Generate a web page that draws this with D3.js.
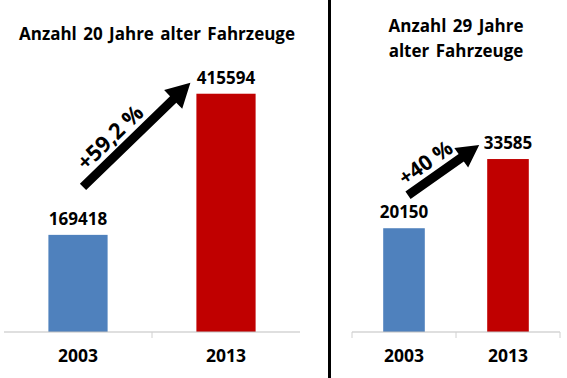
<!DOCTYPE html>
<html>
<head>
<meta charset="utf-8">
<script src="https://cdn.jsdelivr.net/npm/d3@7"></script>
<style>
  body { margin: 0; background: #fff; }
  text { font-family: "Open Sans", "Liberation Sans", sans-serif; font-weight: bold; fill: #000; }
</style>
</head>
<body>
<div id="chart"></div>
<script>
// Data
const years = ['2003', '2013'];
const counts20 = [169418, 415594];
const counts29 = [20150, 33585];
const growth20 = '+59,2 %';
const growth29 = '+40 %';
const barColors = ['#4f81bd', '#c00000'];

const W = 567, H = 378;
const svg = d3.select('#chart').append('svg')
    .attr('width', W)
    .attr('height', H);

// Draw one panel (bars, labels, axis, arrow)
const panel = (opts) => {
    const g = svg.append('g');
    const x = d3.scaleBand().domain(years).range(opts.xRange);
    const y = d3.scaleLinear().domain([0, opts.yMax]).range([332, opts.yTop]);
    const bw = x.bandwidth() * 0.4;
    const cx = d => x(d) + x.bandwidth() / 2;

    // Title
    opts.title.forEach((t, i) => {
        g.append('text')
            .attr('x', opts.titleX)
            .attr('y', opts.titleY + i * 25)
            .attr('text-anchor', 'middle')
            .style('font-size', '17px')
            .style('word-spacing', '2px')
            .text(t);
    });

    // Bars
    g.selectAll('rect')
        .data(opts.values)
        .enter().append('rect')
        .attr('x', (d, i) => cx(years[i]) - bw / 2)
        .attr('y', d => y(d))
        .attr('width', bw)
        .attr('height', d => y(0) - y(d))
        .attr('fill', (d, i) => barColors[i]);

    // Value labels
    g.selectAll('.val')
        .data(opts.values)
        .enter().append('text')
        .attr('class', 'val')
        .attr('x', (d, i) => cx(years[i]))
        .attr('y', d => y(d) - 10)
        .attr('text-anchor', 'middle')
        .style('font-size', '17px')
        .text(d => d);

    // Axis line + ticks
    g.append('line')
        .attr('x1', opts.xRange[0]).attr('x2', opts.xRange[1])
        .attr('y1', y(0)).attr('y2', y(0))
        .attr('stroke', '#bfbfbf').attr('stroke-width', 1.2);
    const tickXs = opts.endTicks
        ? [opts.xRange[0], x(years[1]), opts.xRange[1]]
        : [x(years[1])];
    g.selectAll('.tick')
        .data(tickXs)
        .enter().append('line')
        .attr('x1', d => d).attr('x2', d => d)
        .attr('y1', y(0)).attr('y2', y(0) + 6)
        .attr('stroke', '#d0d0d0').attr('stroke-width', 1);

    // Category labels
    g.selectAll('.cat')
        .data(years)
        .enter().append('text')
        .attr('class', 'cat')
        .attr('x', d => cx(d))
        .attr('y', y(0) + 30)
        .attr('text-anchor', 'middle')
        .style('font-size', '17.5px')
        .text(d => d);

    // Growth arrow
    const tail = [cx(years[0]) + opts.tailDx, y(opts.values[0]) - opts.tailDy];
    const tip = [x(years[1]) + x.bandwidth() * 0.3 - opts.tipDx, y(opts.values[1]) - opts.tipDy];
    const dx = tip[0] - tail[0], dy = tip[1] - tail[1];
    const len = Math.hypot(dx, dy);
    const ang = Math.atan2(dy, dx) * 180 / Math.PI;
    const sw = 4.5, hl = opts.headLen, hw = opts.headW;
    const arrow = [[0, -sw], [len - hl, -sw], [len - hl, -hw], [len, 0],
                   [len - hl, hw], [len - hl, sw], [0, sw]];
    const ag = g.append('g')
        .attr('transform', `translate(${tail[0]},${tail[1]}) rotate(${ang})`);
    ag.append('path')
        .attr('d', d3.line()(arrow) + 'Z')
        .attr('fill', '#000');
    ag.append('text')
        .attr('x', len * opts.labelT)
        .attr('y', -opts.labelOff)
        .attr('text-anchor', 'middle')
        .attr('dominant-baseline', 'central')
        .style('font-size', opts.labelSize)
        .text(opts.growth);
};

panel({
    xRange: [4, 300], yMax: 450000, yTop: 74, values: counts20,
    title: ['Anzahl 20 Jahre alter Fahrzeuge'], titleX: 157, titleY: 40,
    endTicks: false,
    tailDx: 5, tailDy: 48, tipDx: 6, tipDy: 11, headLen: 24, headW: 13,
    growth: growth20, labelT: 0.36, labelOff: 18, labelSize: '22px'
});

panel({
    xRange: [352, 560], yMax: 40000, yTop: 126, values: counts29,
    title: ['Anzahl 29 Jahre', 'alter Fahrzeuge'], titleX: 456, titleY: 32,
    endTicks: true,
    tailDx: 4, tailDy: 33, tipDx: 8, tipDy: 14, headLen: 22, headW: 12,
    growth: growth29, labelT: 0.38, labelOff: 17, labelSize: '21px'
});

// Separator between the two panels
svg.append('line')
    .attr('x1', 329.5).attr('x2', 329.5)
    .attr('y1', 0).attr('y2', H)
    .attr('stroke', '#000').attr('stroke-width', 3);
</script>
</body>
</html>
